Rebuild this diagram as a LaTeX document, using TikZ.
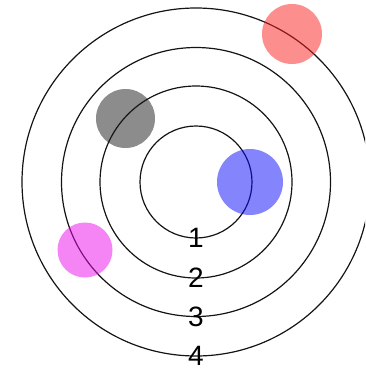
\documentclass[tikz,border=0pt]{standalone}
\usepackage{fontspec}
\setmainfont{Liberation Sans}
\usetikzlibrary{positioning}
\definecolor{ringGray}{RGB}{20,20,20}
\definecolor{dotRed}{RGB}{250,30,30}
\definecolor{dotGray}{RGB}{25,25,25}
\definecolor{dotBlue}{RGB}{10,10,250}
\definecolor{dotPink}{RGB}{235,10,235}

\begin{document}
\begin{tikzpicture}[x=1pt, y=-1pt,
      ring/.style={draw=ringGray, line width=1.2pt},
      num/.style={font=\fontsize{28}{28}\selectfont, inner sep=0pt},
      dot/.style={circle, inner sep=0pt, opacity=0.5}
    ]
      \useasboundingbox (0,0) rectangle (365,372);
      \clip (0,0) rectangle (365,372);
      \coordinate (c) at (196,182);
      % rings with their numbers
      \foreach \r/\n in {56/1, 96/2, 134.5/3, 174/4} {
        \draw[ring] (c) circle[radius=\r];
        \node[num] (n\n) at (196,{182+\r}) {\n};
      }
      % coloured dots
      \node[dot, fill=dotRed, minimum size=60pt] (red) at (292,34) {};
      \node[dot, fill=dotGray, minimum size=59pt] (gray) at (125.5,118.5) {};
      \node[dot, fill=dotBlue, minimum size=66pt] (blue) at (250,182) {};
      \node[dot, fill=dotPink, minimum size=55pt] (pink) at (85,250) {};
    \end{tikzpicture}
\end{document}
